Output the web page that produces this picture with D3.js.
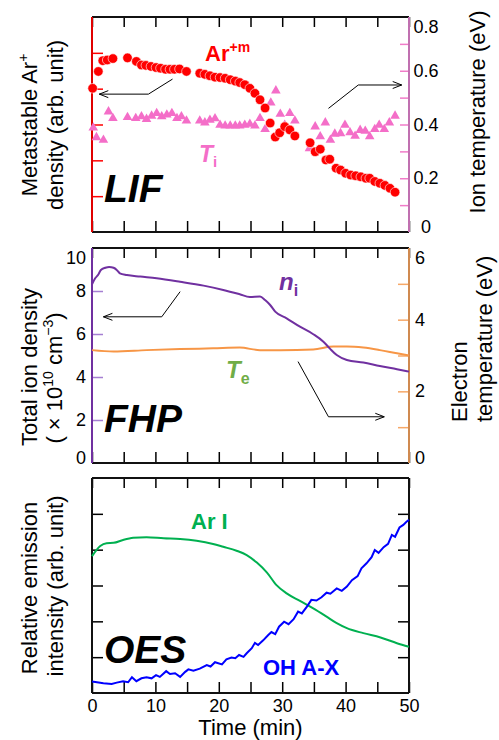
<!DOCTYPE html>
<html>
<head>
<meta charset="utf-8">
<script src="https://cdn.jsdelivr.net/npm/d3@7"></script>
<style>
  body { margin: 0; background: #fff; }
  text { font-family: "Liberation Sans", Arial, sans-serif; }
</style>
</head>
<body>
<script>
// ---- data ----
// LIF panel: metastable Ar+ density (arb., 0-6 scale) and ion temperature (eV)
var arTime = [0.1, 1.0, 1.7, 2.4, 3.3, 5.6, 7.0, 7.8, 8.5, 9.3, 10.1, 10.8, 11.6, 12.3, 13.0, 13.8, 14.9,
  17.0, 17.8, 18.6, 19.4, 20.2, 21.0, 21.8, 22.6, 23.3, 24.1, 24.9, 25.7, 26.5, 27.3, 28.1, 28.9, 29.6, 30.4, 31.2, 32.0,
  34.4, 35.2, 36.0, 36.9, 37.5, 38.5, 39.2, 40.0, 40.8, 41.6, 42.4, 43.2, 43.8, 44.6, 45.4, 46.2, 47.0, 47.8];
var arDensity = [4.01, 4.48, 4.78, 4.80, 4.84, 4.86, 4.76, 4.66, 4.65, 4.62, 4.59, 4.57, 4.54, 4.54, 4.54, 4.55, 4.48,
  4.43, 4.40, 4.36, 4.32, 4.31, 4.29, 4.25, 4.21, 4.17, 4.11, 4.01, 3.87, 3.69, 3.46, 3.04, 2.65, 2.77, 2.94, 2.85, 2.68,
  2.49, 2.24, 2.31, 2.01, 2.03, 1.78, 1.73, 1.64, 1.59, 1.57, 1.54, 1.50, 1.50, 1.41, 1.36, 1.30, 1.22, 1.11];

var tiTime = [0.2, 0.7, 1.8, 2.6, 3.3, 5.6, 6.9, 7.8, 8.6, 9.4, 10.2, 11.0, 11.8, 12.6, 13.4, 14.1, 14.9,
  17.0, 17.8, 18.6, 19.4, 20.2, 21.0, 21.8, 22.6, 23.3, 24.1, 24.9, 25.7, 26.5, 27.3, 28.2, 29.0, 29.7, 30.4, 31.2, 32.0,
  34.3, 35.2, 36.0, 36.8, 37.6, 38.3, 39.2, 39.9, 40.7, 41.5, 42.3, 43.1, 43.8, 44.6, 45.3, 46.1, 46.9, 47.8];
var tiEV = [0.388, 0.352, 0.342, 0.448, 0.423, 0.427, 0.423, 0.430, 0.420, 0.432, 0.442, 0.430, 0.436, 0.442, 0.423, 0.430, 0.414,
  0.414, 0.407, 0.417, 0.422, 0.398, 0.395, 0.395, 0.395, 0.395, 0.398, 0.402, 0.395, 0.423, 0.382, 0.481, 0.526, 0.439, 0.398, 0.442, 0.414,
  0.311, 0.392, 0.355, 0.407, 0.342, 0.365, 0.367, 0.398, 0.370, 0.357, 0.379, 0.376, 0.355, 0.382, 0.398, 0.382, 0.407, 0.432];

// FHP panel: total ion density (1e10 cm^-3) and electron temperature (eV)
var niTime = [0, 0.5, 1.0, 1.4, 2.1, 2.7, 3.4, 3.9, 4.4, 5.5, 7.6, 10.2, 13.9, 17.6, 20.7, 23.3, 24.9, 26.5, 27.3, 28.1,
  28.9, 30.7, 32.8, 34.9, 36.5, 37.5, 38.6, 40.2, 42.8, 45.4, 48.1, 50];
var niDensity = [8.31, 8.59, 8.77, 8.98, 9.08, 9.12, 9.08, 8.98, 8.82, 8.74, 8.67, 8.59, 8.43, 8.25, 8.05, 7.85, 7.72, 7.74, 7.58, 7.35,
  7.04, 6.73, 6.34, 5.99, 5.64, 5.33, 5.02, 4.79, 4.67, 4.51, 4.36, 4.25];

var teTime = [0, 3.4, 8.6, 13.9, 19.1, 23.3, 26.5, 29.7, 34.9, 38.1, 40.2, 42.8, 45.4, 48.1, 50];
var teEV = [3.15, 3.11, 3.15, 3.18, 3.20, 3.22, 3.15, 3.15, 3.17, 3.25, 3.25, 3.22, 3.15, 3.06, 3.00];

// OES panel: relative emission intensity (arb., 0-6 scale)
var arITime = [0, 0.7, 1.3, 2.3, 3.4, 4.9, 6.5, 8.6, 11.3, 13.9, 16.5, 19.1, 20.7, 22.8, 24.4, 26.0, 27.6, 29.1,
  30.7, 32.8, 34.9, 37.0, 38.6, 40.2, 42.8, 45.5, 48.1, 50];
var arIIntensity = [3.82, 3.99, 4.10, 4.18, 4.19, 4.27, 4.33, 4.35, 4.32, 4.30, 4.25, 4.16, 4.08, 3.97, 3.85, 3.64, 3.36, 3.01,
  2.78, 2.57, 2.36, 2.13, 1.95, 1.81, 1.67, 1.55, 1.39, 1.29];

var ohTime = [0, 1.8, 3.1, 3.9, 4.9, 5.7, 6.3, 7.0, 7.8, 8.6, 9.4, 10.1, 10.7, 11.7, 12.3, 13.1, 13.9, 14.7, 15.2, 16.0,
  17.0, 18.1, 18.7, 19.4, 20.5, 21.2, 22.0, 22.6, 23.2, 23.9, 24.4, 25.2, 25.7, 26.2, 27.0, 27.8, 28.3, 28.9, 29.5, 30.3,
  31.0, 31.8, 32.5, 33.1, 33.9, 34.6, 35.4, 36.2, 37.0, 37.6, 38.6, 39.4, 40.2, 41.0, 41.9, 42.5, 43.3, 44.1, 44.6, 45.2,
  46.0, 46.7, 47.3, 47.8, 48.5, 49.1, 49.6, 50];
var ohIntensity = [0.32, 0.27, 0.25, 0.29, 0.33, 0.30, 0.44, 0.33, 0.41, 0.44, 0.41, 0.50, 0.45, 0.61, 0.53, 0.55, 0.45, 0.59, 0.66, 0.62,
  0.68, 0.78, 0.74, 0.86, 0.80, 0.94, 0.99, 0.97, 1.06, 1.01, 1.11, 1.25, 1.40, 1.34, 1.47, 1.62, 1.70, 1.64, 1.85, 1.99,
  1.92, 2.06, 2.27, 2.22, 2.41, 2.60, 2.58, 2.67, 2.80, 2.77, 2.92, 2.85, 2.97, 3.15, 3.26, 3.48, 3.62, 3.79, 3.99, 3.91,
  4.07, 4.16, 4.41, 4.36, 4.62, 4.69, 4.78, 4.83];

var timeTicks = [0, 10, 20, 30, 40, 50];
var tiTicks = [0, 0.2, 0.4, 0.6, 0.8];
var niTicks = [0, 2, 4, 6, 8, 10];
var teTicks = [0, 2, 4, 6];

// ---- layout ----
var svgWidth = 499, svgHeight = 740;
var left = 92, right = 409;
var panels = {
  lif: { top: 17, bottom: 232 },
  fhp: { top: 248, bottom: 463 },
  oes: { top: 478, bottom: 693 }
};

var svg = d3.select("body").append("svg")
  .attr("width", svgWidth)
  .attr("height", svgHeight);

// open arrowhead
svg.append("defs").append("marker")
  .attr("id", "arrow")
  .attr("viewBox", "-10 -5 12 10")
  .attr("refX", 0).attr("refY", 0)
  .attr("markerWidth", 12).attr("markerHeight", 10)
  .attr("markerUnits", "userSpaceOnUse")
  .attr("orient", "auto")
  .append("path")
  .attr("d", "M-9,-3.5L0,0L-9,3.5")
  .attr("fill", "none")
  .attr("stroke", "#000")
  .attr("stroke-width", 1);

var x = d3.scaleLinear().domain([0, 50]).range([left, right]);

// end labels sit a little inside the frame in the original
function labelY(scale, d) {
  var dom = scale.domain();
  var shift = 0;
  if (d === dom[1]) shift = 10;
  if (d === dom[0]) shift = -5;
  return scale(d) + shift + 6;
}

function styleTicks(g, color) {
  g.select(".domain").remove();
  g.selectAll(".tick line").attr("stroke", color).attr("stroke-width", 1.5);
  g.selectAll(".tick text").attr("fill", "#000").style("font-size", "18px")
    .style("font-family", "'Liberation Sans', Arial, sans-serif");
}

// time ticks on top and bottom of a panel (pointing inward)
function timeAxes(p) {
  svg.append("g")
    .attr("transform", `translate(0,${p.top})`)
    .call(d3.axisTop(x).ticks(10).tickSize(-10).tickFormat(""))
    .call(styleTicks, "#000");
  svg.append("g")
    .attr("transform", `translate(0,${p.bottom})`)
    .call(d3.axisBottom(x).ticks(10).tickSize(-11).tickFormat(""))
    .call(styleTicks, "#000");
}

function frame(p, leftColor, rightColor) {
  var g = svg.append("g").attr("fill", "none").attr("stroke-width", 2);
  g.append("line").attr("x1", left).attr("x2", right).attr("y1", p.top).attr("y2", p.top).attr("stroke", "#111");
  g.append("line").attr("x1", left).attr("x2", right).attr("y1", p.bottom).attr("y2", p.bottom).attr("stroke", "#111");
  g.append("line").attr("x1", left).attr("x2", left).attr("y1", p.top).attr("y2", p.bottom).attr("stroke", leftColor);
  g.append("line").attr("x1", right).attr("x2", right).attr("y1", p.top).attr("y2", p.bottom).attr("stroke", rightColor);
}

function arrow(points, sx, sy) {
  svg.append("path")
    .attr("d", d3.line()(points.map(d => [sx(d[0]), sy(d[1])])))
    .attr("fill", "none")
    .attr("stroke", "#000")
    .attr("stroke-width", 1)
    .attr("marker-end", "url(#arrow)");
}

function vTitle(lines) {
  lines.forEach(function(l) {
    var t = svg.append("text")
      .attr("transform", `translate(${l.x},${l.y}) rotate(-90)`)
      .attr("text-anchor", l.anchor || "middle")
      .style("font-size", "22px")
      .attr("fill", "#000");
    l.parts.forEach(function(pt) {
      var s = t.append("tspan").text(pt.t);
      if (pt.sup) s.style("font-size", "14px").attr("dy", pt.dy);
      if (pt.dy && !pt.sup) s.attr("dy", pt.dy);
    });
  });
}

function bigLabel(txt, xPos, yPos) {
  svg.append("text")
    .attr("x", xPos).attr("y", yPos)
    .style("font-size", "39px")
    .style("font-weight", "bold")
    .style("font-style", "italic")
    .attr("fill", "#000")
    .text(txt);
}

// ================= LIF panel =================
var pL = panels.lif;
var yAr = d3.scaleLinear().domain([0, 6]).range([pL.bottom, pL.top]);
var yTi = d3.scaleLinear().domain([0, 0.8]).range([pL.bottom, pL.top]);

timeAxes(pL);
svg.append("g").attr("transform", `translate(${left},0)`)
  .call(d3.axisLeft(yAr).tickValues([1, 2, 3, 4, 5]).tickSize(-11).tickFormat(""))
  .call(styleTicks, "#ff0000");
svg.append("g").attr("transform", `translate(${right},0)`)
  .call(d3.axisRight(yTi).tickValues([0.1, 0.2, 0.3, 0.4, 0.5, 0.6, 0.7]).tickSize(-9).tickFormat(""))
  .call(styleTicks, "#f07cc8");
svg.append("g").selectAll("text")
  .data(tiTicks).enter().append("text")
  .attr("x", 426).attr("y", d => labelY(yTi, d))
  .attr("text-anchor", "middle")
  .style("font-size", "18px")
  .text(d => d === 0 ? "0" : d3.format(".1f")(d));
frame(pL, "#e00000", "#c070b0");

var tiData = tiTime.map((t, i) => ({ t: t, v: tiEV[i] }));
svg.append("g").selectAll("path")
  .data(tiData).enter().append("path")
  .attr("transform", d => `translate(${x(d.t)},${yTi(d.v)})`)
  .attr("d", d3.symbol(d3.symbolTriangle, 40))
  .attr("fill", "#f46ec8");

var arData = arTime.map((t, i) => ({ t: t, v: arDensity[i] }));
svg.append("g").selectAll("circle")
  .data(arData).enter().append("circle")
  .attr("cx", d => x(d.t))
  .attr("cy", d => yAr(d.v))
  .attr("r", 4.8)
  .attr("fill", "#ff0000")
  .attr("stroke", "#fff")
  .attr("stroke-width", 0.6);

arrow([[12.7, 0.569], [8.9, 0.513], [1.15, 0.513]], x, yTi);
arrow([[37.3, 0.460], [42.0, 0.547], [48.85, 0.547]], x, yTi);

var arLab = svg.append("text").attr("x", 205).attr("y", 61)
  .style("font-size", "22px").style("font-weight", "bold").attr("fill", "#ff0000");
arLab.append("tspan").text("Ar");
arLab.append("tspan").text("+m").style("font-size", "14px").attr("dy", -9);

var tiLab = svg.append("text").attr("x", 199).attr("y", 162)
  .style("font-size", "23px").style("font-weight", "bold").attr("fill", "#f46ec8");
tiLab.append("tspan").text("T").style("font-style", "italic");
tiLab.append("tspan").text("i").style("font-size", "15px").attr("dy", 5);

bigLabel("LIF", 104, 202);

vTitle([
  { x: 37, y: 125, parts: [{ t: "Metastable Ar" }, { t: "+", sup: true, dy: -9 }] },
  { x: 63, y: 125, parts: [{ t: "density (arb. unit)" }] }
]);
vTitle([{ x: 485, y: 112, parts: [{ t: "Ion temperature (eV)" }] }]);

// ================= FHP panel =================
var pF = panels.fhp;
var yNi = d3.scaleLinear().domain([0, 10]).range([pF.bottom, pF.top]);
var yTe = d3.scaleLinear().domain([0, 6]).range([pF.bottom, pF.top]);

timeAxes(pF);
svg.append("g").attr("transform", `translate(${left},0)`)
  .call(d3.axisLeft(yNi).tickValues([2, 4, 6, 8]).tickSize(-11).tickFormat(""))
  .call(styleTicks, "#a57fd2");
svg.append("g").selectAll("text")
  .data(niTicks).enter().append("text")
  .attr("x", 86).attr("y", d => labelY(yNi, d))
  .attr("text-anchor", "end")
  .style("font-size", "18px")
  .text(d => d);
svg.append("g").attr("transform", `translate(${right},0)`)
  .call(d3.axisRight(yTe).tickValues([1, 2, 3, 4, 5]).tickSize(-11).tickFormat(""))
  .call(styleTicks, "#f6a868");
svg.append("g").selectAll("text")
  .data(teTicks).enter().append("text")
  .attr("x", 415).attr("y", d => labelY(yTe, d))
  .style("font-size", "18px")
  .text(d => d);
frame(pF, "#7030a0", "#d08a50");

svg.append("path")
  .datum(teTime.map((t, i) => [t, teEV[i]]))
  .attr("d", d3.line().x(d => x(d[0])).y(d => yTe(d[1])).curve(d3.curveMonotoneX))
  .attr("fill", "none").attr("stroke", "#f79646").attr("stroke-width", 2);

svg.append("path")
  .datum(niTime.map((t, i) => [t, niDensity[i]]))
  .attr("d", d3.line().x(d => x(d[0])).y(d => yNi(d[1])).curve(d3.curveMonotoneX))
  .attr("fill", "none").attr("stroke", "#7030a0").attr("stroke-width", 2);

arrow([[13.9, 7.97], [11.0, 6.80], [1.8, 6.80]], x, yNi);
arrow([[32.5, 2.83], [37.3, 1.29], [46.1, 1.29]], x, yTe);

var niLab = svg.append("text").attr("x", 279).attr("y", 290)
  .style("font-size", "24px").style("font-weight", "bold").attr("fill", "#7030a0");
niLab.append("tspan").text("n").style("font-style", "italic");
niLab.append("tspan").text("i").style("font-size", "16px").attr("dy", 6);

var teLab = svg.append("text").attr("x", 226).attr("y", 378)
  .style("font-size", "24px").style("font-weight", "bold").attr("fill", "#70ad47");
teLab.append("tspan").text("T").style("font-style", "italic");
teLab.append("tspan").text("e").style("font-size", "16px").attr("dy", 6);

bigLabel("FHP", 104, 432);

vTitle([
  { x: 37, y: 367, parts: [{ t: "Total ion density" }] },
  { x: 62, y: 378, parts: [{ t: "( \u00d7 10" }, { t: "10", sup: true, dy: -9 }, { t: " cm", dy: 9 },
    { t: "\u22123", sup: true, dy: -9 }, { t: ")", dy: 9 }] }
]);
vTitle([
  { x: 467, y: 422, anchor: "start", parts: [{ t: "Electron" }] },
  { x: 492, y: 422, anchor: "start", parts: [{ t: "temperature (eV)" }] }
]);

// ================= OES panel =================
var pO = panels.oes;
var yEm = d3.scaleLinear().domain([0, 6]).range([pO.bottom, pO.top]);

svg.append("g")
  .attr("transform", `translate(0,${pO.top})`)
  .call(d3.axisTop(x).ticks(10).tickSize(-10).tickFormat(""))
  .call(styleTicks, "#000");
svg.append("g")
  .attr("transform", `translate(0,${pO.bottom})`)
  .call(d3.axisBottom(x).ticks(10).tickSize(-11).tickFormat(""))
  .call(styleTicks, "#000");
svg.append("g")
  .attr("transform", `translate(0,${pO.bottom})`)
  .call(d3.axisBottom(x).tickValues(timeTicks).tickSize(0).tickPadding(6).tickFormat(d3.format("d")))
  .call(styleTicks, "#000");
svg.append("g").attr("transform", `translate(${left},0)`)
  .call(d3.axisLeft(yEm).tickValues([1, 2, 3, 4, 5]).tickSize(-11).tickFormat(""))
  .call(styleTicks, "#000");
svg.append("g").attr("transform", `translate(${right},0)`)
  .call(d3.axisRight(yEm).tickValues([1, 2, 3, 4, 5]).tickSize(-11).tickFormat(""))
  .call(styleTicks, "#000");
frame(pO, "#111", "#111");

svg.append("path")
  .datum(arITime.map((t, i) => [t, arIIntensity[i]]))
  .attr("d", d3.line().x(d => x(d[0])).y(d => yEm(d[1])).curve(d3.curveMonotoneX))
  .attr("fill", "none").attr("stroke", "#00b050").attr("stroke-width", 2);

svg.append("path")
  .datum(ohTime.map((t, i) => [t, ohIntensity[i]]))
  .attr("d", d3.line().x(d => x(d[0])).y(d => yEm(d[1])))
  .attr("fill", "none").attr("stroke", "#0000ff").attr("stroke-width", 2);

svg.append("text").attr("x", 191).attr("y", 529)
  .style("font-size", "22px").style("font-weight", "bold").attr("fill", "#00b050")
  .text("Ar I");
svg.append("text").attr("x", 263).attr("y", 675)
  .style("font-size", "22px").style("font-weight", "bold").attr("fill", "#0000ff")
  .text("OH A-X");

bigLabel("OES", 104, 663);

vTitle([
  { x: 37, y: 588, parts: [{ t: "Relative emission" }] },
  { x: 63, y: 586, parts: [{ t: "intensity (arb. unit)" }] }
]);

svg.append("text")
  .attr("x", (left + right) / 2).attr("y", 735)
  .attr("text-anchor", "middle")
  .style("font-size", "22px")
  .text("Time (min)");
</script>
</body>
</html>
